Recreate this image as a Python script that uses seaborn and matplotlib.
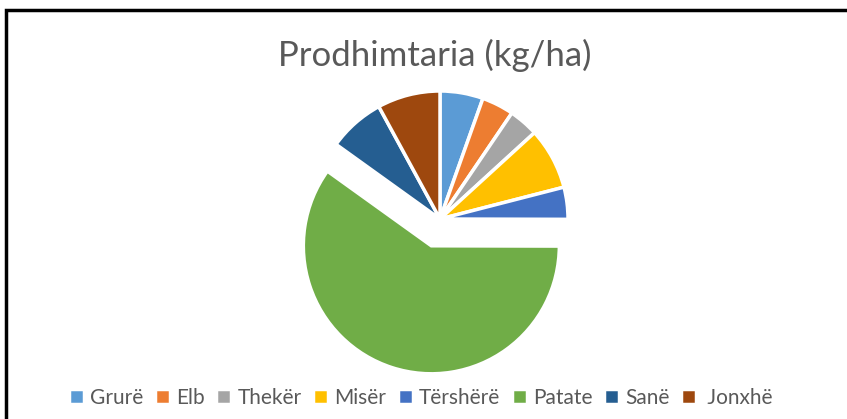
import matplotlib
matplotlib.use("Agg")
import matplotlib.pyplot as plt
from matplotlib.patches import Rectangle
import seaborn as sns

# -----------------------------
# DATA
# -----------------------------
crops = ["Grurë", "Elb", "Thekër", "Misër", "Tërshërë", "Patate", "Sanë", " Jonxhë"]
yield_kg_ha = [3500, 2600, 2400, 5000, 2600, 38500, 4600, 5100]
explode = [0, 0, 0, 0, 0, 0.22, 0, 0]
colors = ["#5B9BD5", "#ED7D31", "#A5A5A5", "#FFC000", "#4472C4", "#70AD47", "#255E91", "#9E480E"]

sns.set_theme(style="white")
plt.rcParams["font.family"] = ["Lato", "DejaVu Sans"]
palette = sns.color_palette(colors)

fig = plt.figure(figsize=(8.47, 4.19), dpi=100)

# pie centre at (440, 219) px, radius ~128 px
r_px = 128
cx, cy = 440, 219
half = 1.4 * r_px
ax = fig.add_axes([(cx - half) / 847, (419 - cy - half) / 419, 2 * half / 847, 2 * half / 419])

wedges, _ = ax.pie(
    yield_kg_ha,
    colors=palette,
    explode=explode,
    startangle=90,
    counterclock=False,
    wedgeprops=dict(edgecolor="white", linewidth=2.5),
)
ax.set_xlim(-1.4, 1.4)
ax.set_ylim(-1.4, 1.4)
ax.axis("off")

fig.text(0.513, 1 - 55 / 419, "Prodhimtaria (kg/ha)", ha="center", va="center",
         fontsize=25, color="#595959")

fig.legend(wedges, crops, loc="center", bbox_to_anchor=(0.497, 1 - 398 / 419), ncol=8,
           frameon=False, fontsize=15, handlelength=0.72, handleheight=0.72,
           handletextpad=0.3, columnspacing=0.55, labelcolor="#595959")

# chart frame
fig.patches.append(Rectangle((6 / 847, -0.1), 1.0, 1 - 10 / 419 + 0.1,
                             transform=fig.transFigure, fill=False,
                             edgecolor="black", linewidth=2.5))

fig.savefig("out.png", dpi=100)
